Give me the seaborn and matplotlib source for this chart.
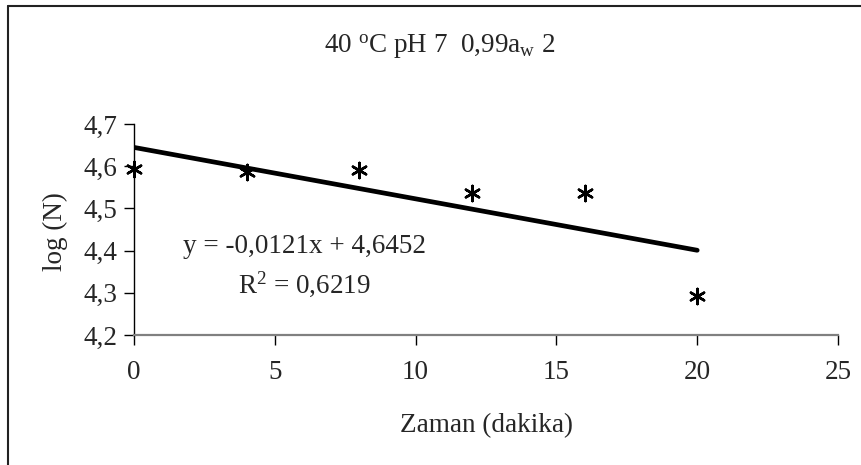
import matplotlib
matplotlib.use("Agg")
import matplotlib.pyplot as plt
import matplotlib.ticker as mticker
from matplotlib.lines import Line2D
import seaborn as sns
import numpy as np
import pandas as pd

# Data
time_min = [0, 4, 8, 12, 16, 20]
log_n = [4.593, 4.586, 4.591, 4.537, 4.537, 4.292]
x_ticks = [0, 5, 10, 15, 20, 25]
y_ticks = [4.2, 4.3, 4.4, 4.5, 4.6, 4.7]
title_text = r"40 $^{\rm o}$C pH 7  0,99a$_{\rm w}$ 2"
eq_text = "y = -0,0121x + 4,6452"
r2_text = r"R$^{2}$ = 0,6219"
x_label = "Zaman (dakika)"
y_label = "log (N)"

df = pd.DataFrame({"t": time_min, "logN": log_n})

sns.set_style("white")
plt.rcParams["font.family"] = ["Liberation Serif", "DejaVu Serif"]
plt.rcParams["mathtext.fontset"] = "custom"
plt.rcParams["mathtext.rm"] = "Liberation Serif"
plt.rcParams["mathtext.it"] = "Liberation Serif:italic"

FS = 19.5
W, H = 861, 465
fig = plt.figure(figsize=(W/100, H/100), dpi=100)
ax = fig.add_axes([134/W, 1-335/H, (838-134)/W, (335-124)/H])

sns.regplot(data=df, x="t", y="logN", ax=ax, ci=None, scatter=False,
            line_kws=dict(color="black", lw=3.4, solid_capstyle="round"))
sns.scatterplot(data=df, x="t", y="logN", ax=ax, marker=(6, 2, 0), s=120,
                color="black", linewidth=1.8, edgecolor="black", zorder=5,
                clip_on=False)

ax.set_xlim(0, 25)
ax.set_ylim(4.2, 4.7)
ax.set_xticks(x_ticks)
ax.set_yticks(y_ticks)
ax.xaxis.set_major_formatter(mticker.FuncFormatter(lambda v, p: f"{v:g}".replace(".", ",")))
ax.yaxis.set_major_formatter(mticker.FuncFormatter(lambda v, p: f"{v:.1f}".replace(".", ",")))

for s in ["top", "right"]:
    ax.spines[s].set_visible(False)
ax.spines["left"].set_color("black")
ax.spines["left"].set_linewidth(1.0)
ax.spines["bottom"].set_color("#808080")
ax.spines["bottom"].set_linewidth(1.6)
ax.tick_params(axis="y", direction="out", length=7, width=1, color="black",
               labelsize=FS, pad=5, left=True)
ax.tick_params(axis="x", direction="out", length=7, width=1, color="black",
               labelsize=FS, pad=11, bottom=True)

ax.set_xlabel(x_label, fontsize=FS, va="baseline")
ax.xaxis.set_label_coords(0.5, (335-432)/211)
ax.set_ylabel(y_label, fontsize=FS, va="center")
ax.yaxis.set_label_coords((55-134)/704, (335-232)/211)

fig.text(440/W, 1-53/H, title_text, ha="center", va="baseline", fontsize=FS)
fig.text(183/W, 1-253/H, eq_text, ha="left", va="baseline", fontsize=FS)
fig.text(238/W, 1-293/H, r2_text, ha="left", va="baseline", fontsize=FS)

# figure border (top and left visible)
fig.add_artist(Line2D([8/W, 1.0], [1-6/H, 1-6/H], transform=fig.transFigure,
                      color="#222222", lw=1.5))
fig.add_artist(Line2D([8/W, 8/W], [0, 1-6/H], transform=fig.transFigure,
                      color="#222222", lw=1.5))

fig.savefig("out.png", dpi=100)
